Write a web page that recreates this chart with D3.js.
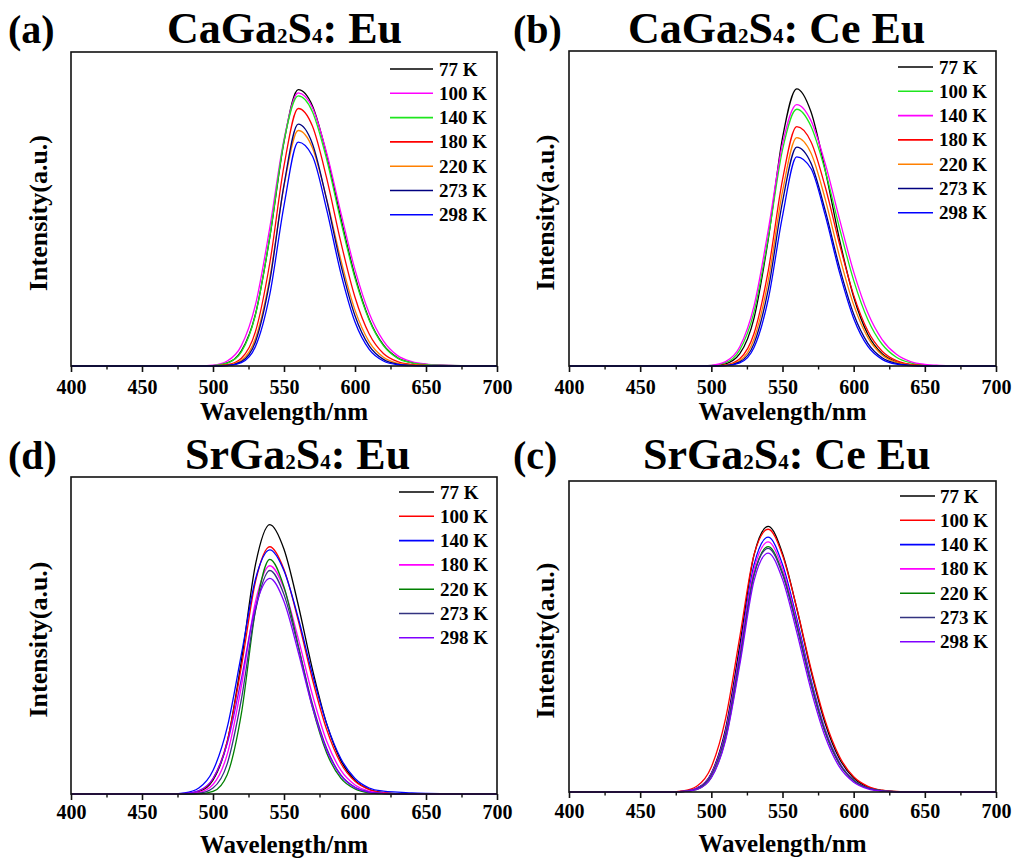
<!DOCTYPE html>
<html><head><meta charset="utf-8">
<script src="https://cdn.jsdelivr.net/npm/d3@7"></script>
<style>
body{margin:0;background:#fff}
svg text{font-family:"Liberation Serif","Times New Roman",serif;font-weight:bold;fill:#000}
</style>
</head><body>
<svg id="chart" width="1014" height="863"></svg>
<script>
// ---------------- data ----------------
const temps = ["77 K","100 K","140 K","180 K","220 K","273 K","298 K"];
const xTicks = [400,450,500,550,600,650,700];
const xMinor = [425,475,525,575,625,675];

// wavelength grids (nm)
const wlCa = [400,480,490,500,510,520,530,540,550,560,570,580,590,600,610,620,630,640,650,660,680,700];
const wlSr = [400,460,470,480,490,500,510,520,530,540,550,560,570,580,590,600,610,620,630,640,650,660,680,700];

// (a) CaGa2S4: Eu  — series in legend order
const caEu = [
 [0,0,0,0.1,1.0,4.8,16.7,41.0,71.4,88,82.9,67.4,47.2,28.6,14.9,6.7,2.6,1.1,0.5,0.25,0.1,0],
 [0,0,0.05,0.3,1.6,6.5,19.7,44.1,72.2,87,82.3,67.9,48.9,30.7,16.8,8.0,3.3,1.4,0.6,0.3,0.1,0],
 [0,0,0,0.12,0.9,4.5,16.5,41.2,71.6,86,81.0,65.9,46.1,27.9,14.6,6.5,2.5,1.0,0.45,0.2,0,0],
 [0,0,0,0.04,0.4,2.5,11.1,32.8,63.7,82,76.4,59.9,39.5,21.9,10.2,4.0,1.4,0.5,0.2,0.1,0,0],
 [0,0,0,0,0.23,1.8,8.9,28.1,57.3,75,69.5,53.3,33.9,17.8,7.7,2.8,0.9,0.3,0.1,0,0,0],
 [0,0,0,0,0.16,1.4,7.8,27.0,57.7,77,70.8,53.0,32.3,16.0,6.4,2.1,0.6,0.2,0.1,0,0,0],
 [0,0,0,0,0.12,1.1,6.3,22.8,51.1,71.3,66.9,49.9,29.6,14.0,5.3,1.6,0.4,0.1,0,0,0,0]
];
// (b) CaGa2S4: Ce Eu
const caCeEu = [
 [0,0,0,0.08,0.7,3.9,15.2,40.3,72.4,88,80.7,62.2,40.3,21.9,10.0,3.9,1.3,0.4,0.1,0,0,0],
 [0,0,0,0.16,1.1,5.1,17.2,40.8,68.6,81.5,76.1,62.0,43.9,27.2,14.7,6.9,2.8,1.0,0.3,0.1,0,0],
 [0,0,0.02,0.23,1.4,6.1,19.1,43.2,70.5,83,77.9,64.3,46.7,29.9,16.8,8.4,3.7,1.4,0.5,0.2,0,0],
 [0,0,0,0.03,0.34,2.3,10.3,30.3,59.1,76,71.2,56.9,38.8,22.5,11.1,4.7,1.7,0.5,0.13,0,0,0],
 [0,0,0,0,0.22,1.7,8.6,27.2,55.4,72.5,67.6,53.0,34.9,19.4,9.0,3.5,1.2,0.3,0.07,0,0,0],
 [0,0,0,0,0.14,1.3,7.1,24.3,52.1,69.5,64.4,49.4,31.4,16.5,7.2,2.6,0.8,0.2,0,0,0,0],
 [0,0,0,0,0.11,1.0,5.9,21.2,47.6,66.4,62.7,47.9,29.8,15.1,6.2,2.1,0.56,0.13,0,0,0,0]
];
// (d) SrGa2S4: Eu
const srEu = [
 [0,0,0,0.09,0.78,4.4,16.4,42.0,72.6,85,77.2,59.7,39.4,22.2,10.6,4.3,1.5,0.45,0.11,0,0,0,0,0],
 [0,0,0,0.13,0.95,4.8,16.6,40.2,67.2,78,70.8,54.8,36.2,20.4,9.7,4.0,1.4,0.4,0.1,0,0,0,0,0],
 [0,0,0.05,0.36,1.9,7.4,21.0,44.1,67.9,77,70.4,55.6,37.8,22.2,11.2,4.9,1.9,0.9,0.6,0.35,0.2,0.1,0,0],
 [0,0,0,0.05,0.48,3.0,12.5,34.0,60.8,72,64.8,49.1,31.3,16.7,7.5,2.85,0.9,0.24,0,0,0,0,0,0],
 [0,0,0,0,0.06,0.82,6.1,25.4,58.2,74,65.3,46.9,27.4,13.0,5.0,1.6,0.4,0.1,0,0,0,0,0,0],
 [0,0,0,0,0.23,1.9,9.5,29.9,58.1,70.5,62.9,46.5,28.4,14.4,6.0,2.1,0.6,0.14,0,0,0,0,0,0],
 [0,0,0,0.17,1.07,4.9,15.9,36.4,59.1,68,60.7,44.8,27.4,13.9,5.8,2.0,0.6,0.14,0,0,0,0,0,0]
];
// (c) SrGa2S4: Ce Eu
const srCeEu = [
 [0,0,0,0.17,1.2,5.9,19.9,46.3,74.7,83.7,75.2,57.9,38.2,21.6,10.5,4.4,1.56,0.48,0.13,0,0,0,0,0],
 [0,0,0.04,0.34,1.9,7.9,23.1,48.9,74.8,82.8,74.6,58.0,38.9,22.5,11.2,4.8,1.8,0.57,0.16,0,0,0,0,0],
 [0,0,0,0.17,1.2,5.7,19.1,44.4,71.6,80.3,71.7,54.7,35.5,19.6,9.3,3.7,1.27,0.37,0.1,0,0,0,0,0],
 [0,0,0,0.17,1.15,5.6,18.7,43.6,70.2,78.8,70.4,53.6,34.8,19.3,9.1,3.65,1.25,0.36,0.1,0,0,0,0,0],
 [0,0,0,0.11,0.85,4.6,16.8,41.2,68.4,77.3,69.1,52.6,34.2,18.9,8.9,3.6,1.22,0.36,0.1,0,0,0,0,0],
 [0,0,0,0.16,1.1,5.4,18.2,42.5,68.5,76.8,68.6,52.3,34.0,18.8,8.9,3.6,1.2,0.35,0.1,0,0,0,0,0],
 [0,0,0,0.11,0.83,4.5,16.3,40.1,66.6,75.3,67.0,50.4,32.2,17.4,7.9,3.1,1.0,0.28,0.07,0,0,0,0,0]
];

const colorsCaEu   = ["#000000","#ff00ff","#1ee61e","#ff0000","#ff8000","#000080","#0000ff"];
const colorsCaCeEu = ["#000000","#1ee61e","#ff00ff","#ff0000","#ff8000","#000080","#0000ff"];
const colorsSrEu   = ["#000000","#ff0000","#0000ff","#ff00ff","#008000","#333380","#8000ff"];
const colorsSrCeEu = ["#000000","#ff0000","#0000ff","#ff00ff","#008000","#333380","#8000ff"];

const titleCaEu   = ["CaGa","2","S","4",": Eu"];
const titleCaCeEu = ["CaGa","2","S","4",": Ce Eu"];
const titleSrEu   = ["SrGa","2","S","4",": Eu"];
const titleSrCeEu = ["SrGa","2","S","4",": Ce Eu"];

// ---------------- layout ----------------
const panels = [
 {letter:"(a)", title:titleCaEu, wl:wlCa, series:caEu, colors:colorsCaEu,
  x0:71, x1:497, yTop:52, yBot:366, yMax:100, letterX:8, titleX:167, titleY:43,
  lg:{x1:390,x2:433,tx:439,y0:69}, ylabX:47, tickDy:28, xlabDy:54},
 {letter:"(b)", title:titleCaCeEu, wl:wlCa, series:caCeEu, colors:colorsCaCeEu,
  x0:569, x1:996, yTop:51, yBot:366, yMax:100, letterX:513, titleX:628, titleY:43,
  lg:{x1:898,x2:933,tx:939,y0:67}, ylabX:554, tickDy:28, xlabDy:54},
 {letter:"(d)", title:titleSrEu, wl:wlSr, series:srEu, colors:colorsSrEu,
  x0:71, x1:497, yTop:477, yBot:794, yMax:100, letterX:8, titleX:185, titleY:469,
  lg:{x1:399,x2:434,tx:440,y0:492}, ylabX:47, tickDy:25, xlabDy:59},
 {letter:"(c)", title:titleSrCeEu, wl:wlSr, series:srCeEu, colors:colorsSrCeEu,
  x0:569, x1:996, yTop:481, yBot:792, yMax:98, letterX:513, titleX:643, titleY:469,
  lg:{x1:900,x2:935,tx:940,y0:496}, ylabX:554, tickDy:26, xlabDy:60}
];

const svg = d3.select("#chart");

panels.forEach(p => {
  const g = svg.append("g");
  const x = d3.scaleLinear().domain([400,700]).range([p.x0,p.x1]);
  const y = d3.scaleLinear().domain([0,p.yMax]).range([p.yBot,p.yTop]);

  // curves
  const line = d3.line()
    .x((d,i) => x(p.wl[i]))
    .y(d => y(d))
    .curve(d3.curveMonotoneX);
  g.append("g").selectAll("path").data(p.series).join("path")
    .attr("d", d => line(d))
    .attr("fill","none")
    .attr("stroke",(d,i) => p.colors[i])
    .attr("stroke-width",1.3)
    .attr("stroke-linejoin","round");

  // frame
  g.append("rect")
    .attr("x",p.x0).attr("y",p.yTop)
    .attr("width",p.x1-p.x0).attr("height",p.yBot-p.yTop)
    .attr("fill","none").attr("stroke","#111").attr("stroke-width",1.6);

  // x axis
  const axis = d3.axisBottom(x).tickValues(xTicks).tickSize(6).tickSizeOuter(0).tickPadding(3)
    .tickFormat(d3.format("d"));
  const ax = g.append("g").attr("transform",`translate(0,${p.yBot})`).call(axis);
  ax.select(".domain").remove();
  ax.selectAll(".tick line").attr("stroke","#111").attr("stroke-width",1.6);
  ax.selectAll(".tick text").attr("font-size",20).attr("dy",null)
    .attr("y",p.tickDy).style("font-family",'"Liberation Serif","Times New Roman",serif')
    .style("font-weight","bold").attr("fill","#000");
  const axm = g.append("g").attr("transform",`translate(0,${p.yBot})`)
    .call(d3.axisBottom(x).tickValues(xMinor).tickSize(3.5).tickSizeOuter(0).tickFormat(""));
  axm.select(".domain").remove();
  axm.selectAll(".tick line").attr("stroke","#111").attr("stroke-width",1.4);

  // axis titles
  g.append("text").attr("x",(p.x0+p.x1)/2).attr("y",p.yBot+p.xlabDy)
    .attr("text-anchor","middle").attr("font-size",25).text("Wavelength/nm");
  g.append("text")
    .attr("transform",`translate(${p.ylabX},${(p.yTop+p.yBot)/2+4}) rotate(-90)`)
    .attr("text-anchor","middle").attr("font-size",26).text("Intensity(a.u.)");

  // panel letter & title
  g.append("text").attr("x",p.letterX).attr("y",p.titleY).attr("font-size",40).text(p.letter);
  const t = g.append("text").attr("x",p.titleX).attr("y",p.titleY).attr("font-size",44);
  p.title.forEach((s,i) => {
    const sub = i===1 || i===3;
    t.append("tspan").attr("font-size",sub?21:44).text(s);
  });

  // legend
  const step = 24.3;
  const lg = g.append("g");
  temps.forEach((lab,i) => {
    const yy = p.lg.y0 + i*step;
    lg.append("line").attr("x1",p.lg.x1).attr("x2",p.lg.x2).attr("y1",yy).attr("y2",yy)
      .attr("stroke",p.colors[i]).attr("stroke-width",1.6);
    lg.append("text").attr("x",p.lg.tx).attr("y",yy+6.5).attr("font-size",19).text(lab);
  });
});
</script>
</body></html>
